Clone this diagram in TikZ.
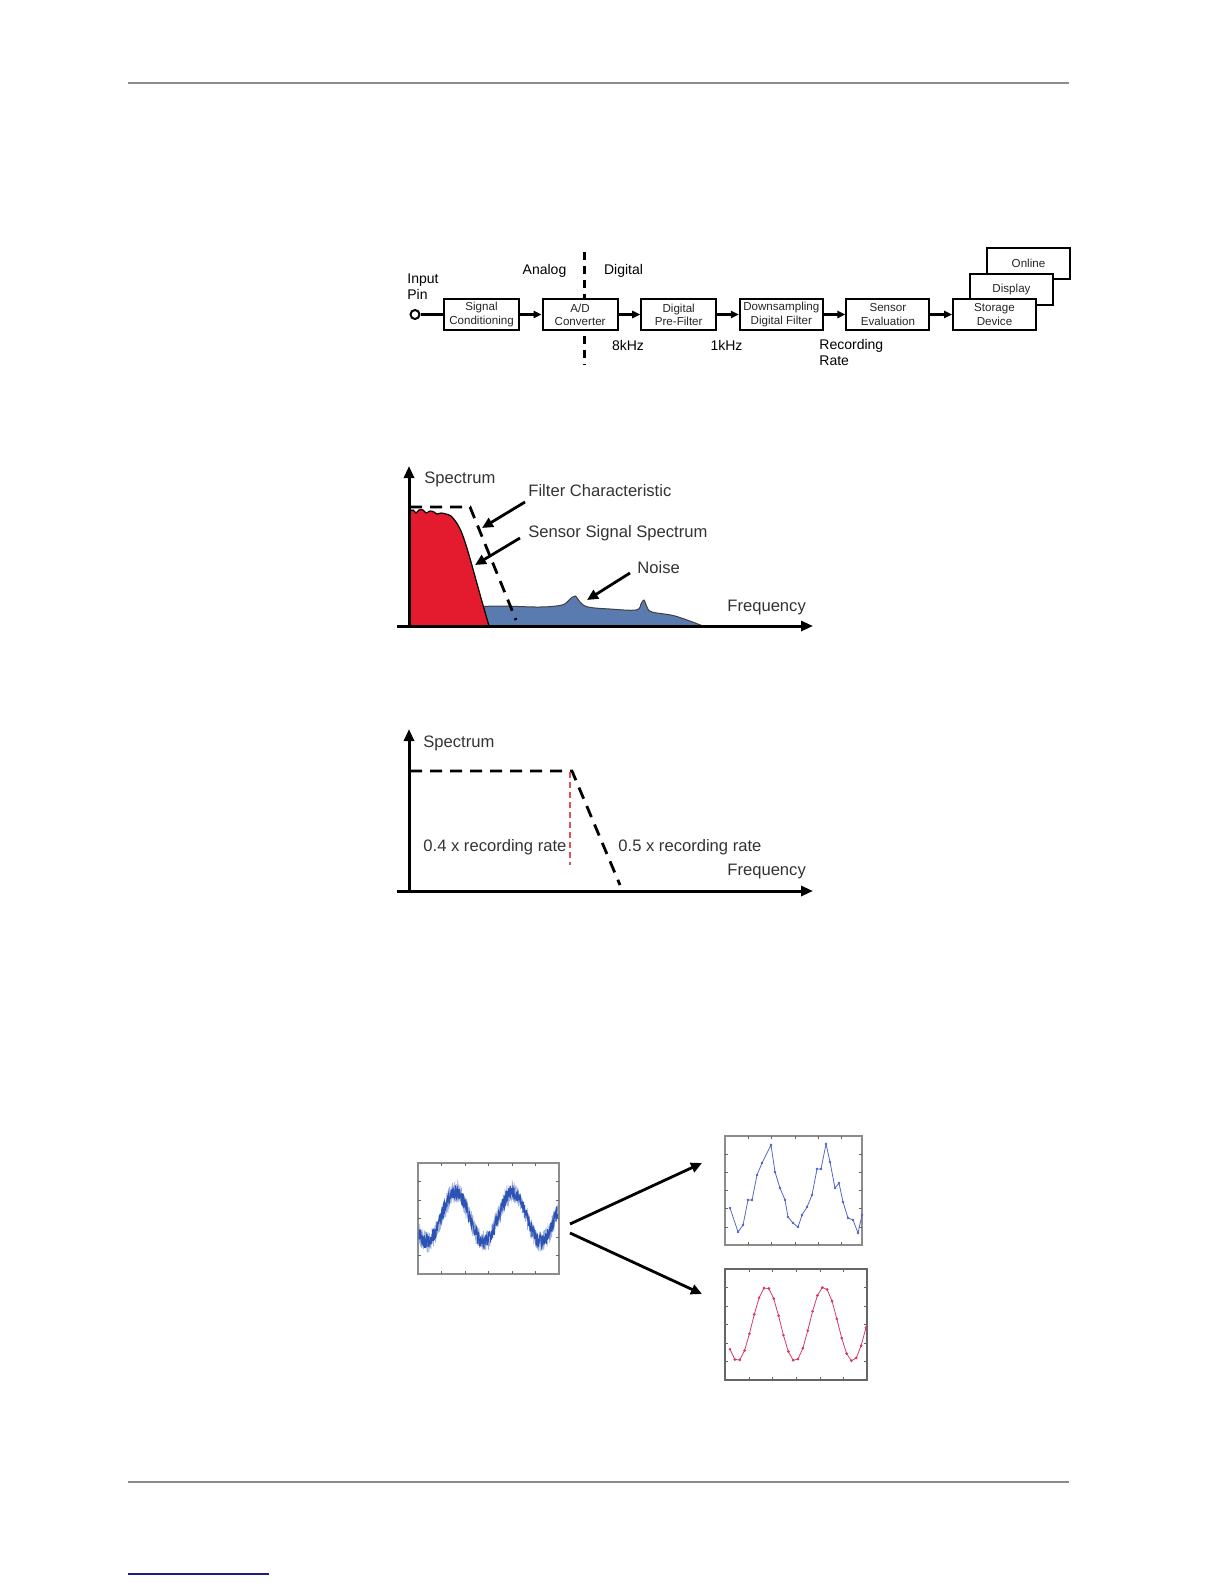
\documentclass[tikz,border=0pt]{standalone}
\usepackage{fontspec}
\setmainfont{Liberation Sans}
\usetikzlibrary{arrows.meta,positioning,backgrounds,calc}
\definecolor{sig}{HTML}{E41B2F}
\definecolor{noise}{HTML}{5A7BB0}
\definecolor{rawblue}{HTML}{2C52B4}
\definecolor{jag}{HTML}{5566C4}
\definecolor{sinered}{HTML}{D43A62}
\definecolor{cut}{HTML}{E0505A}
\definecolor{rule}{HTML}{8C8C8C}
\definecolor{link}{HTML}{1C1C8A}

\begin{document}
\begin{tikzpicture}[x=0.5pt,y=-0.5pt,
    box/.style={draw,line width=1pt,fill=white,minimum height=15.5pt,minimum width=37.5pt,inner sep=1pt,font=\fontsize{5.8}{6.6}\selectfont,align=center,text=black!85},
    wbox/.style={box,minimum width=41.5pt},
    lbl/.style={font=\fontsize{7}{8}\selectfont,inner sep=0pt,align=left},
    txt/.style={font=\fontsize{8.3}{10}\selectfont,text=black!80,inner sep=0pt,anchor=west},
    frame/.style={draw=black!45,line width=0.6pt,inner sep=0pt},
    tick/.style={draw=black!60,line width=0.4pt},
    flow/.style={line width=1.2pt,-{Triangle[length=4pt,width=3.6pt]}},
    axis/.style={line width=1.5pt,-{Triangle[length=6pt,width=5pt]}},
    note/.style={line width=1.4pt,-{Triangle[length=5.5pt,width=5pt]}},
    filt/.style={line width=1.4pt,dash pattern=on 6pt off 4pt},
    node distance=10.8pt]
\useasboundingbox (0,0) rectangle (1224,1584);
% page rules
\draw[rule,line width=0.8pt] (128,83) -- (1069,83);
\draw[rule,line width=0.8pt] (128,1482) -- (1069,1482);
\draw[link,line width=0.8pt] (128,1574) -- (269,1574);

% signal chain
\node[circle,draw,line width=1pt,inner sep=0pt,minimum size=4.5pt] (pin) at (415,314.5) {};
\node[lbl,anchor=north west] (pinlbl) at (407,273) {Input\\Pin};
\node[box] (cond) at (481.5,314.5) {Signal\\Conditioning};
\node[box,right=of cond] (adc) {A/D\\Converter};
\node[box,right=of adc] (pre) {Digital\\Pre-Filter};
\node[wbox,right=of pre] (down) {Downsampling\\Digital Filter};
\node[wbox,right=of down] (eval) {Sensor\\Evaluation};
\node[wbox,right=of eval] (store) {Storage\\Device};
\coordinate (sepA) at (584.5,252);
\coordinate (sepB) at (584.5,365);
\begin{scope}[on background layer]
  \node[wbox] (online) at ($(store)+(34,-51)$) {Online};
  \node[wbox] (disp) at ($(store)+(17,-25.5)$) {Display};
  \draw[line width=1.2pt,dash pattern=on 4pt off 3pt] (sepA) -- (sepB);
\end{scope}
\draw[line width=1.2pt] (pin) -- (cond);
\draw[flow] (cond) -- (adc); \draw[flow] (adc) -- (pre); \draw[flow] (pre) -- (down);
\draw[flow] (down) -- (eval); \draw[flow] (eval) -- (store);
\node[lbl] (analog) at (544.5,271) {Analog};
\node[lbl] (digital) at (623.5,271) {Digital};
\node[lbl] (rate8) at (628,345) {8kHz};
\node[lbl] (rate1) at (726.5,345) {1kHz};
\node[lbl,anchor=north west] (recrate) at (819,339) {Recording\\Rate};

% spectrum with noise
\coordinate (o1) at (409,628);
\coordinate (y1) at (409,466);
\coordinate (xa1) at (397,626);
\coordinate (x1) at (813,626);
\filldraw[fill=noise,draw=black!75,line width=0.5pt] (470,626) -- plot[smooth,tension=0.6] coordinates {(472,607) (500,606) (540,607) (562,605) (569,600) (575,596) (580,602) (588,607) (610,609) (636,610) (641,604) (644,600) (647,607) (652,612) (675,616) (703,626)} -- cycle;
\filldraw[fill=sig,draw=black,line width=0.6pt] (410,626) -- plot[smooth,tension=0.5] coordinates {(410,511) (413,510) (416,513) (419,510) (423,510) (426,513) (430,511) (434,512) (437,514) (441,513) (446,514) (451,516) (456,522) (461,531) (466,545) (471,562) (476,580) (481,598) (485,612) (489,626)} -- cycle;
\draw[axis] (o1) -- (y1);
\draw[axis] (xa1) -- (x1);
\draw[filt] (410,507) -- (470,507) -- (516,620);
\node[txt] (spec1) at (424,479) {Spectrum};
\node[txt] (filtlbl) at (528,491) {Filter Characteristic};
\node[txt] (siglbl) at (528,533) {Sensor Signal Spectrum};
\node[txt] (noiselbl) at (637,568) {Noise};
\node[txt] (freq1) at (727,608) {Frequency};
\coordinate (fa) at (525,502); \coordinate (fb) at (482,528);
\coordinate (sa) at (520,538); \coordinate (sb) at (475,565);
\coordinate (na) at (630,573); \coordinate (nb) at (587,600);
\draw[note] (fa) -- (fb);
\draw[note] (sa) -- (sb);
\draw[note] (na) -- (nb);

% filter limits
\coordinate (o2) at (409,893);
\coordinate (y2) at (409,729);
\coordinate (xa2) at (397,891);
\coordinate (x2) at (813,891);
\draw[axis] (o2) -- (y2);
\draw[axis] (xa2) -- (x2);
\draw[filt] (410,771) -- (572,771) -- (620,885);
\draw[cut,line width=0.8pt,dash pattern=on 3pt off 2pt] (570,772) -- (570,865);
\node[txt] (spec2) at (423,743) {Spectrum};
\node[txt] (low) at (423,847) {0.4 x recording rate};
\node[txt] (high) at (618,847) {0.5 x recording rate};
\node[txt] (freq2) at (727,872) {Frequency};

% raw and filtered signals
\node[frame,minimum width=70.5pt,minimum height=55.5pt] (rawplot) at (488.5,1218.5) {};
\node[frame,minimum width=68.5pt,minimum height=54.5pt] (jagplot) at (793.5,1190.5) {};
\node[frame,draw=black!60,minimum width=71pt,minimum height=55.5pt] (smoothplot) at (796,1324.5) {};
\foreach \t in {441.5,465,488.5,512,535.5} {\draw[tick] (\t,1163) -- ++(0,3) (\t,1274) -- ++(0,-3);}
\foreach \t in {1181.5,1200,1218.5,1237,1255.5} {\draw[tick] (418,\t) -- ++(3,0) (559,\t) -- ++(-3,0);}
\foreach \t in {748,771,795,818,841} {\draw[tick] (\t,1136) -- ++(0,3) (\t,1245) -- ++(0,-3);}
\foreach \t in {1154,1172,1190,1208,1227} {\draw[tick] (725,\t) -- ++(3,0) (862,\t) -- ++(-3,0);}
\foreach \t in {749,772,796,820,843} {\draw[tick] (\t,1269) -- ++(0,3) (\t,1380) -- ++(0,-3);}
\foreach \t in {1287,1306,1324,1343,1361} {\draw[tick] (725,\t) -- ++(3,0) (867,\t) -- ++(-3,0);}
\pgfmathsetseed{12}
\draw[rawblue!45,line width=0.35pt] plot[domain=419:558,samples=600] (\x,{1217+25*cos(6.3158*(\x-427))+11*rand});
\draw[rawblue,line width=0.5pt] plot[domain=419:558,samples=500] (\x,{1217+25*cos(6.3158*(\x-427))+7*rand});
\draw[jag,line width=0.4pt,mark=*,mark size=0.45pt] plot coordinates {(730,1208) (738,1232) (743,1225) (748,1200) (752,1200) (757,1175) (762,1163) (771,1145) (775,1172) (780,1188) (785,1200) (788,1217) (793,1223) (798,1227) (802,1215) (807,1207) (812,1195) (817,1169) (821,1169) (826,1144) (830,1162) (835,1188) (839,1183) (843,1202) (848,1218) (853,1220) (858,1233) (862,1215)};
\draw[sinered,line width=0.4pt,mark=*,mark size=0.45pt] plot[domain=730:866,samples=29] (\x,{1324+37*cos(6.2609*(\x-737.5))});
\coordinate (splitA) at (570,1224); \coordinate (toJag) at (702,1163);
\coordinate (splitB) at (570,1233); \coordinate (toSmooth) at (702,1294);
\draw[note] (splitA) -- (toJag);
\draw[note] (splitB) -- (toSmooth);
\end{tikzpicture}
\end{document}
